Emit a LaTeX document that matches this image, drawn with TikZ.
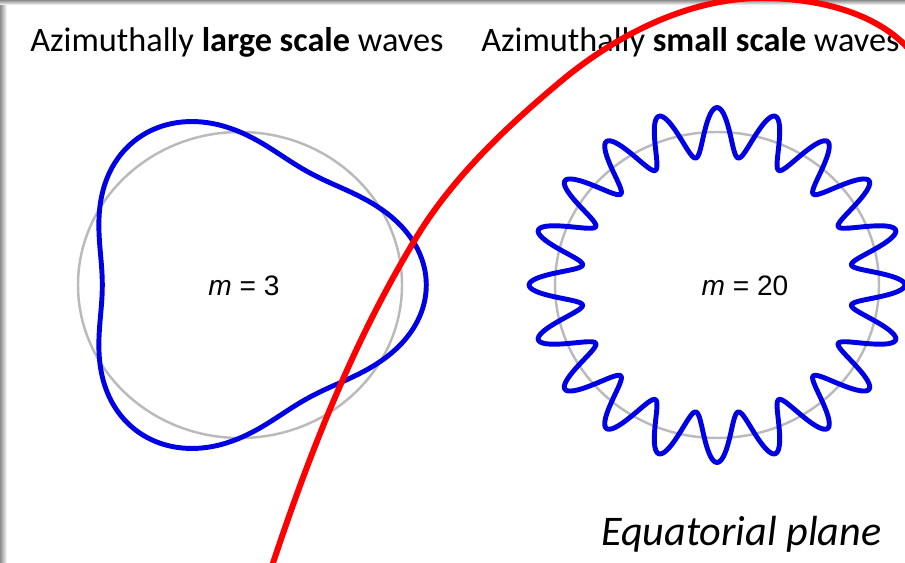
\documentclass[tikz,border=0pt]{standalone}
\usepackage{fontspec}
\setmainfont{Carlito}
\newfontfamily\plotfont{Liberation Sans}
\usepackage{tikz}
\usetikzlibrary{positioning,calc}

\begin{document}
\begin{tikzpicture}[
    x=0.02cm, y=-0.02cm,
    title/.style={font=\fontsize{19.5}{23}\selectfont, inner sep=0pt},
    mlabel/.style={font=\plotfont\fontsize{16}{19}\selectfont, inner sep=0pt},
    refcircle/.style={draw=black!27, line width=1.4pt},
    wave/.style={draw=blue!90!black, line width=2.8pt, line join=round},
    cut/.style={draw=red, line width=3.4pt, line cap=round}
  ]

  \useasboundingbox (0,0) rectangle (905,563);
  \fill[white] (0,0) rectangle (905,563);

  % Shadow along the top and left edges
  \shade[left color=black!45, right color=white] (0,0) rectangle (7,563);
  \shade[top color=black!45, bottom color=white] (0,0) rectangle (905,5);

  % Titles
  \node[title, anchor=base west] (title_large) at (30,52)
    {Azimuthally \textbf{large scale} waves};
  \node[title, anchor=base west] (title_small) at (481,52)
    {Azimuthally \textbf{small scale} waves};

  % Left panel: m = 3
  \coordinate (centre_m3) at (240,285);
  \draw[refcircle] (centre_m3) ellipse [x radius=162, y radius=153];
  \draw[wave] plot[domain=0:360, samples=240, variable=\t]
    ({240+162*(1+0.15*cos(3*\t))*cos(\t)}, {285-153*(1+0.15*cos(3*\t))*sin(\t)}) -- cycle;
  \node[mlabel] (label_m3) at (244,286) {\textit{m} = 3};

  % Right panel: m = 20
  \coordinate (centre_m20) at (717,285);
  \draw[refcircle] (centre_m20) ellipse [x radius=162, y radius=153];
  \draw[wave] plot[domain=0:360, samples=721, variable=\t]
    ({717+162*(1+0.16*cos(20*\t))*cos(\t)}, {285-153*(1+0.16*cos(20*\t))*sin(\t)}) -- cycle;
  \node[mlabel] (label_m20) at (745,286) {\textit{m} = 20};

  % Cut through the equatorial plane
  \coordinate (cut_start) at (264,590);
  \coordinate (cut_a) at (273,563);
  \coordinate (cut_b) at (413,243);
  \coordinate (cut_c) at (560,82);
  \coordinate (cut_d) at (762,-2);
  \coordinate (cut_e) at (905,45);
  \coordinate (cut_end) at (940,82);
  \begin{scope}
    \clip (0,0) rectangle (905,563);
    \draw[cut] (cut_start) -- (cut_a)
      .. controls (310,452) and (353,343) .. (cut_b)
      .. controls (450,180) and (504,129) .. (cut_c)
      .. controls (616,35) and (689,-2) .. (cut_d)
      .. controls (812,-2) and (870,10) .. (cut_e)
      -- (cut_end);
  \end{scope}

  \node[font=\fontsize{24}{28}\selectfont\itshape, anchor=base west, inner sep=0pt]
    (plane_label) at (601,545) {Equatorial plane};

\end{tikzpicture}
\end{document}
